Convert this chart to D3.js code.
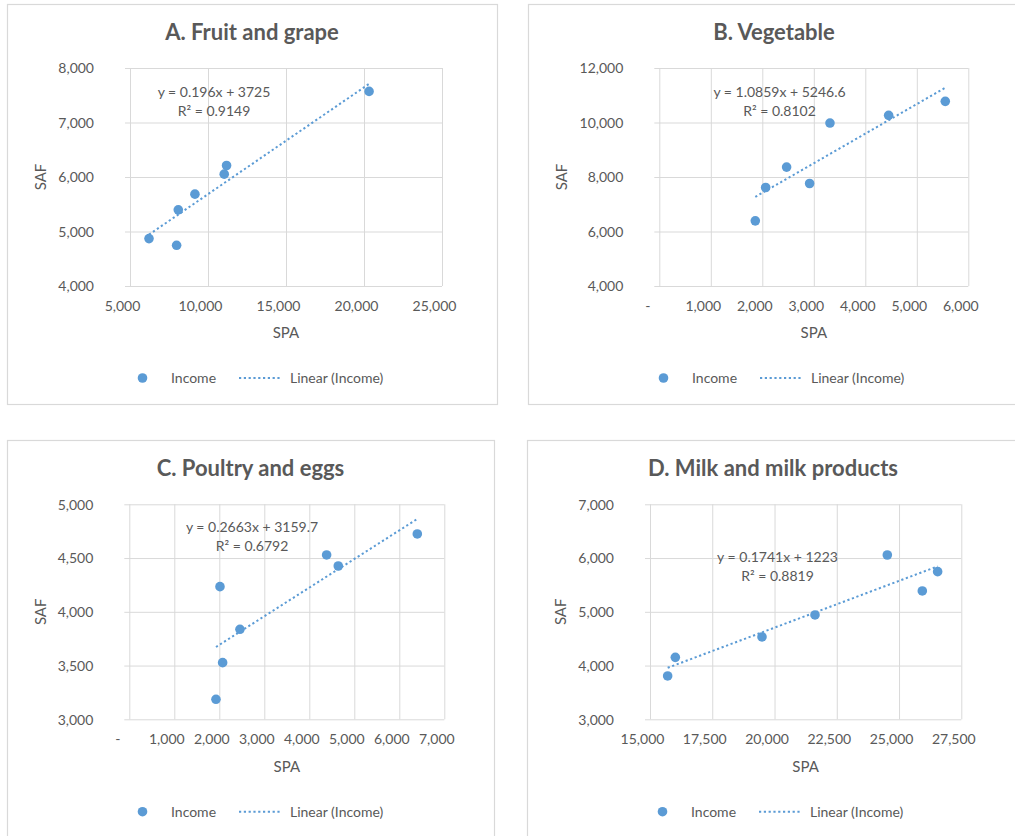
<!DOCTYPE html>
<html>
<head>
<meta charset="utf-8">
<script src="https://cdn.jsdelivr.net/npm/d3@7"></script>
<style>
  html, body { margin: 0; padding: 0; background: #ffffff; }
  svg { display: block; font-family: Lato, "Open Sans", sans-serif; }
</style>
</head>
<body>
<svg id="chart" width="1015" height="836"></svg>
<script>
// ---- Data -------------------------------------------------------------
const panelTitles = ["A. Fruit and grape", "B. Vegetable", "C. Poultry and eggs", "D. Milk and milk products"];

// SPA (x) and SAF (y) for each income group, per food category
const spaFruit = [6218, 7988, 8095, 9162, 11040, 11190, 20325];
const safFruit = [4870, 4747, 5397, 5685, 6052, 6211, 7571];

const spaVegetable = [1864, 2065, 2472, 2919, 3314, 4453, 5553];
const safVegetable = [6390, 7615, 8363, 7762, 9980, 10262, 10777];

const spaPoultry = [1926, 2015, 2074, 2459, 4385, 4644, 6400];
const safPoultry = [3186, 4234, 3527, 3837, 4529, 4426, 4724];

const spaMilk = [15709, 16017, 19497, 21625, 24529, 25934, 26550];
const safMilk = [3806, 4153, 4532, 4941, 6057, 5388, 5747];

// Linear trendline coefficients and fit
const trendSlope = [0.196, 1.0859, 0.2663, 0.1741];
const trendIntercept = [3725, 5246.6, 3159.7, 1223];
const trendSlopeText = ["0.196", "1.0859", "0.2663", "0.1741"];
const trendInterceptText = ["3725", "5246.6", "3159.7", "1223"];
const rSquaredText = ["0.9149", "0.8102", "0.6792", "0.8819"];

// Axis domains and ticks
const xTicksFruit = [5000, 10000, 15000, 20000, 25000];
const yTicksFruit = [4000, 5000, 6000, 7000, 8000];
const xTicksVegetable = [0, 1000, 2000, 3000, 4000, 5000, 6000];
const yTicksVegetable = [4000, 6000, 8000, 10000, 12000];
const xTicksPoultry = [0, 1000, 2000, 3000, 4000, 5000, 6000, 7000];
const yTicksPoultry = [3000, 3500, 4000, 4500, 5000];
const xTicksMilk = [15000, 17500, 20000, 22500, 25000, 27500];
const yTicksMilk = [3000, 4000, 5000, 6000, 7000];

const seriesName = "Income";
const trendName = "Linear (Income)";
const xAxisTitle = "SPA";
const yAxisTitle = "SAF";

// ---- Layout -----------------------------------------------------------
const panels = [
  { spa: spaFruit, saf: safFruit, xt: xTicksFruit, yt: yTicksFruit,
    box: { x: 7, y: 4, w: 490, h: 400 },
    plot: { l: 130, r: 442, t: 68, b: 286 }, eq: { x: 214, y: 92 } },
  { spa: spaVegetable, saf: safVegetable, xt: xTicksVegetable, yt: yTicksVegetable,
    box: { x: 528, y: 4, w: 492, h: 400 },
    plot: { l: 659.3, r: 968.3, t: 68, b: 286 }, eq: { x: 779.5, y: 92 } },
  { spa: spaPoultry, saf: safPoultry, xt: xTicksPoultry, yt: yTicksPoultry,
    box: { x: 7, y: 440, w: 487, h: 420 },
    plot: { l: 129.3, r: 444.3, t: 504.3, b: 719.3 }, eq: { x: 252, y: 527.5 } },
  { spa: spaMilk, saf: safMilk, xt: xTicksMilk, yt: yTicksMilk,
    box: { x: 527, y: 440, w: 492, h: 420 },
    plot: { l: 650, r: 961.3, t: 504.3, b: 719.3 }, eq: { x: 777.5, y: 557.5 } }
];

const blue = "#5b9bd5";
const textGrey = "#595959";
const gridGrey = "#d9d9d9";
const fmt = d3.format(",");

const svg = d3.select("#chart");

panels.forEach((p, i) => {
  const g = svg.append("g");
  const plotW = p.plot.r - p.plot.l;
  const plotH = p.plot.b - p.plot.t;

  // chart frame
  g.append("rect")
    .attr("x", p.box.x + 0.5).attr("y", p.box.y + 0.5)
    .attr("width", p.box.w).attr("height", p.box.h)
    .attr("fill", "#ffffff").attr("stroke", gridGrey).attr("stroke-width", 1.2);

  const x = d3.scaleLinear()
    .domain([p.xt[0], p.xt[p.xt.length - 1]])
    .range([p.plot.l, p.plot.r]);
  const y = d3.scaleLinear()
    .domain([p.yt[0], p.yt[p.yt.length - 1]])
    .range([p.plot.b, p.plot.t]);

  // horizontal gridlines (with short outside ticks) + y labels
  const yAxis = d3.axisLeft(y).tickValues(p.yt)
    .tickSize(-plotW)
    .tickFormat(d => fmt(d));
  const ya = g.append("g")
    .attr("transform", `translate(${p.plot.l},0)`)
    .call(yAxis);
  ya.select(".domain").remove();
  ya.selectAll(".tick line").attr("stroke", gridGrey).attr("stroke-width", 1)
    .attr("x1", -5);
  ya.selectAll(".tick text")
    .attr("x", -36)
    .attr("dy", "0.35em")
    .attr("fill", textGrey).attr("font-size", 14).attr("font-family", "Lato");

  // vertical gridlines + x labels
  const xAxis = d3.axisBottom(x).tickValues(p.xt)
    .tickSize(-plotH)
    .tickFormat(d => d === 0 ? "-" : fmt(d));
  const xa = g.append("g")
    .attr("transform", `translate(0,${p.plot.b})`)
    .call(xAxis);
  xa.select(".domain").remove();
  xa.selectAll(".tick line").attr("stroke", gridGrey).attr("stroke-width", 1);
  xa.selectAll(".tick text")
    .attr("y", 20).attr("dy", "0.35em")
    .attr("dx", d => d === 0 ? -12 : -8)
    .attr("fill", textGrey).attr("font-size", 14).attr("font-family", "Lato");

  // title
  g.append("text")
    .attr("x", p.box.x + p.box.w / 2).attr("y", p.box.y + 36)
    .attr("text-anchor", "middle")
    .attr("font-size", 22).attr("font-weight", 700)
    .attr("fill", textGrey)
    .text(panelTitles[i]);

  // axis titles
  g.append("text")
    .attr("x", (p.plot.l + p.plot.r) / 2).attr("y", p.plot.b + 47)
    .attr("dy", "0.35em").attr("text-anchor", "middle")
    .attr("font-size", 15).attr("fill", textGrey)
    .text(xAxisTitle);
  g.append("text")
    .attr("transform", `translate(${p.box.x + 34},${(p.plot.t + p.plot.b) / 2}) rotate(-90)`)
    .attr("dy", "0.35em").attr("text-anchor", "middle")
    .attr("font-size", 15).attr("fill", textGrey)
    .text(yAxisTitle);

  // linear trendline over the data range
  const xMin = d3.min(p.spa), xMax = d3.max(p.spa);
  const trend = [xMin, xMax].map(v => [v, trendSlope[i] * v + trendIntercept[i]]);
  g.append("path")
    .attr("d", d3.line().x(d => x(d[0])).y(d => y(d[1]))(trend))
    .attr("fill", "none").attr("stroke", blue)
    .attr("stroke-width", 2).attr("stroke-dasharray", "2.2,2.6");

  // points
  g.append("g").selectAll("circle")
    .data(p.spa.map((v, k) => [v, p.saf[k]]))
    .join("circle")
    .attr("cx", d => x(d[0])).attr("cy", d => y(d[1]))
    .attr("r", 4.8).attr("fill", blue);

  // equation label
  const eq = g.append("text")
    .attr("text-anchor", "middle").attr("font-size", 14).attr("fill", textGrey);
  eq.append("tspan").attr("x", p.eq.x).attr("y", p.eq.y).attr("dy", "0.35em")
    .text(`y = ${trendSlopeText[i]}x + ${trendInterceptText[i]}`);
  eq.append("tspan").attr("x", p.eq.x).attr("y", p.eq.y + 19).attr("dy", "0.35em")
    .text(`R² = ${rSquaredText[i]}`);

  // legend
  const lx = p.box.x + 135.5;
  const ly = p.box.y + (i < 2 ? 374 : 371.7);
  g.append("circle").attr("cx", lx).attr("cy", ly).attr("r", 4.8).attr("fill", blue);
  g.append("text").attr("x", lx + 28.5).attr("y", ly).attr("dy", "0.35em")
    .attr("font-size", 14).attr("fill", textGrey).text(seriesName);
  g.append("line")
    .attr("x1", lx + 96.5).attr("x2", lx + 139.5).attr("y1", ly).attr("y2", ly)
    .attr("stroke", blue).attr("stroke-width", 2).attr("stroke-dasharray", "2.2,2.6");
  g.append("text").attr("x", lx + 147.5).attr("y", ly).attr("dy", "0.35em")
    .attr("font-size", 14).attr("fill", textGrey).text(trendName);
});
</script>
</body>
</html>
